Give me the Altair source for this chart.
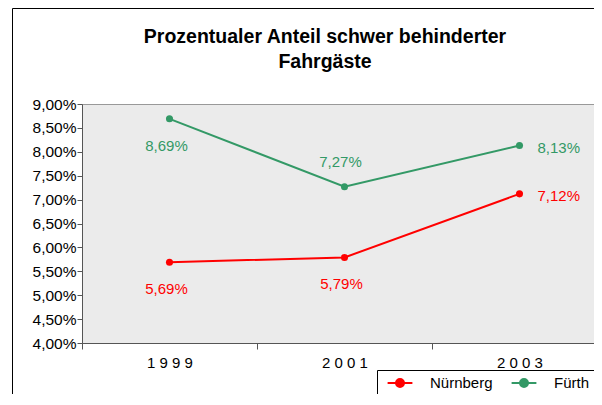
import altair as alt
import pandas as pd

years = ["1999", "2001", "2003"]
series_names = ["Nürnberg", "Fürth"]
nuernberg = [5.69, 5.79, 7.12]
fuerth = [8.69, 7.27, 8.13]
y_ticks = [4.0, 4.5, 5.0, 5.5, 6.0, 6.5, 7.0, 7.5, 8.0, 8.5, 9.0]
colors = ["#ff0000", "#339966"]
title_lines = ["Prozentualer Anteil schwer behinderter", "Fahrgäste"]

rows = []
for name, vals in zip(series_names, [nuernberg, fuerth]):
    for yr, v in zip(years, vals):
        rows.append({"series": name, "year": yr, "value": v})
df = pd.DataFrame(rows)

FONT = "Liberation Sans"
W, H = 512, 239

base = alt.Chart(df).transform_calculate(
    lab="replace(format(datum.value, '.2f'), '.', ',') + '%'"
)

x = alt.X("year:N", sort=years, title=None,
          scale=alt.Scale(range=[0, 525], paddingInner=0, paddingOuter=0),
          axis=alt.Axis(labelAngle=0, tickBand="extent", labelExpr="join(split(datum.label, ''), ' ')",
                        labelFont=FONT, labelFontSize=15, labelColor="black", labelPadding=6,
                        domainColor="#555", tickColor="#555", tickSize=6, grid=False))
y = alt.Y("value:Q", title=None,
          scale=alt.Scale(domain=[4, 9], nice=False, zero=False),
          axis=alt.Axis(values=y_ticks, labelExpr="replace(format(datum.value, '.2f'), '.', ',') + '%'",
                        labelFont=FONT, labelFontSize=15.5, labelColor="black", labelPadding=1,
                        domainColor="#555", tickColor="#555", tickSize=5, grid=False))
color = alt.Color("series:N", scale=alt.Scale(domain=series_names, range=colors),
                  legend=alt.Legend(title=None, orient="none", legendX=295, legendY=266,
                                    direction="horizontal", strokeColor="black", fillColor="white",
                                    padding=4, labelFont=FONT, labelFontSize=15, labelColor="black",
                                    symbolType="M-1.55,0L1.55,0M-0.5,0A0.5,0.5 0 1 0 0.5,0A0.5,0.5 0 1 0 -0.5,0Z",
                                    symbolSize=256, symbolStrokeWidth=2, symbolOffset=10,
                                    columnPadding=12, labelOffset=21))
text_color = alt.Color("series:N", scale=alt.Scale(domain=series_names, range=colors), legend=None)

lines = base.mark_line(strokeWidth=2).encode(x=x, y=y, color=color)
points = base.mark_point(filled=True, size=50, opacity=1).encode(x=x, y=y, color=color)

text_common = dict(font=FONT, fontSize=15)
below = base.mark_text(baseline="middle", align="center", dy=27, dx=-3, **text_common).encode(
    x=x, y=y, text="lab:N", color=text_color
).transform_filter("datum.year != '2003' && !(datum.series == 'Fürth' && datum.year == '2001')")
above = base.mark_text(baseline="middle", align="center", dy=-25, dx=-4, **text_common).encode(
    x=x, y=y, text="lab:N", color=text_color
).transform_filter("datum.series == 'Fürth' && datum.year == '2001'")
right = base.mark_text(baseline="middle", align="left", dx=18, dy=2, **text_common).encode(
    x=x, y=y, text="lab:N", color=text_color
).transform_filter("datum.year == '2003'")

deco = alt.Data(values=[{}])
frame_top = alt.Chart(deco).mark_rule(stroke="black", strokeWidth=1, clip=False).encode(
    x=alt.value(-69.5), x2=alt.value(600), y=alt.value(-95.5)
)
frame_left = alt.Chart(deco).mark_rule(stroke="black", strokeWidth=1, clip=False).encode(
    x=alt.value(-69.5), y=alt.value(-95.5), y2=alt.value(400)
)
title1 = alt.Chart(deco).mark_text(font=FONT, fontSize=19.5, fontWeight="bold", color="black",
                                   align="center", baseline="middle").encode(
    x=alt.value(243), y=alt.value(-67), text=alt.value(title_lines[0]))
title2 = alt.Chart(deco).mark_text(font=FONT, fontSize=19.5, fontWeight="bold", color="black",
                                   align="center", baseline="middle").encode(
    x=alt.value(243), y=alt.value(-42), text=alt.value(title_lines[1]))

chart = alt.layer(frame_top, frame_left, title1, title2, lines, points, below, above, right).properties(
    width=W, height=H,
    autosize=alt.AutoSizeParams(type="none"),
    padding={"left": 74, "top": 96, "right": 0, "bottom": 51},
).configure_view(fill="#ebebeb", stroke="#999")

chart.save("out.html", embed_options={"renderer": "svg", "actions": False})
